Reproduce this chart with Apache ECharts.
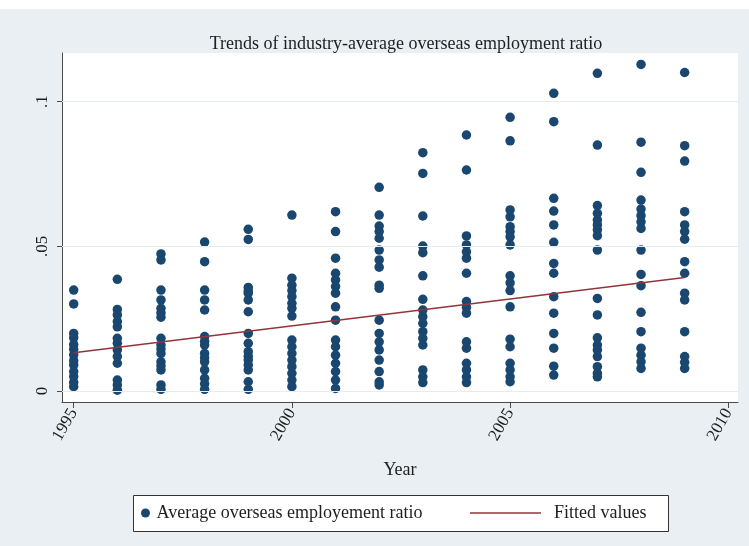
<!DOCTYPE html>
<html>
<head>
<meta charset="utf-8">
<script src="https://cdn.jsdelivr.net/npm/echarts@6/dist/echarts.min.js"></script>
<style>
html,body{margin:0;padding:0;background:#fff;}
#c{width:749px;height:546px;}
</style>
</head>
<body>
<div id="c"></div>
<script>
// ---- data ----
const years = [1995,1996,1997,1998,1999,2000,2001,2002,2003,2004,2005,2006,2007,2008,2009];
const r1995 = [0.0349,0.0301,0.0199,0.0184,0.0160,0.0144,0.0125,0.0105,0.0090,0.0067,0.0050,0.0030,0.0015];
const r1996 = [0.0386,0.0282,0.0263,0.0240,0.0222,0.0182,0.0165,0.0142,0.0119,0.0096,0.0038,0.0021,0.0003];
const r1997 = [0.0474,0.0453,0.0349,0.0315,0.0286,0.0270,0.0255,0.0182,0.0159,0.0145,0.0130,0.0101,0.0087,0.0073,0.0021,0.0006];
const r1998 = [0.0515,0.0447,0.0349,0.0315,0.0280,0.0188,0.0172,0.0159,0.0130,0.0115,0.0101,0.0073,0.0044,0.0025,0.0006];
const r1999 = [0.0559,0.0524,0.0358,0.0346,0.0338,0.0315,0.0274,0.0199,0.0165,0.0136,0.0120,0.0107,0.0090,0.0073,0.0032,0.0006];
const r2000 = [0.0608,0.0390,0.0366,0.0347,0.0326,0.0303,0.0286,0.0259,0.0176,0.0153,0.0130,0.0107,0.0084,0.0061,0.0038,0.0015];
const r2001 = [0.0620,0.0551,0.0459,0.0407,0.0384,0.0361,0.0338,0.0291,0.0245,0.0176,0.0153,0.0124,0.0096,0.0067,0.0038,0.0009];
const r2002 = [0.0704,0.0608,0.0570,0.0551,0.0528,0.0487,0.0453,0.0428,0.0366,0.0355,0.0245,0.0199,0.0170,0.0142,0.0107,0.0067,0.0032,0.0021];
const r2003 = [0.0824,0.0752,0.0605,0.0501,0.0478,0.0398,0.0317,0.0280,0.0257,0.0234,0.0205,0.0182,0.0159,0.0073,0.0049,0.0029];
const r2004 = [0.0885,0.0764,0.0536,0.0505,0.0481,0.0459,0.0407,0.0309,0.0289,0.0269,0.0170,0.0148,0.0096,0.0073,0.0049,0.0029];
const r2005 = [0.0946,0.0865,0.0626,0.0602,0.0568,0.0551,0.0533,0.0505,0.0398,0.0374,0.0347,0.0291,0.0179,0.0153,0.0096,0.0073,0.0049,0.0032];
const r2006 = [0.1029,0.0931,0.0666,0.0622,0.0574,0.0514,0.0441,0.0407,0.0326,0.0269,0.0199,0.0148,0.0086,0.0055];
const r2007 = [0.1098,0.0850,0.0641,0.0614,0.0591,0.0574,0.0557,0.0537,0.0487,0.0320,0.0263,0.0184,0.0159,0.0142,0.0119,0.0084,0.0061,0.0049];
const r2008 = [0.1129,0.0860,0.0756,0.0660,0.0629,0.0606,0.0585,0.0562,0.0487,0.0403,0.0364,0.0272,0.0205,0.0148,0.0124,0.0101,0.0078];
const r2009 = [0.1101,0.0848,0.0795,0.0620,0.0574,0.0551,0.0525,0.0447,0.0407,0.0338,0.0315,0.0205,0.0119,0.0099,0.0078];
const fitYears = [1995, 2009];
const fitValues = [0.0132, 0.0392];
const xTicks = [1995, 2000, 2005, 2010];
const yTicks = [0, 0.05, 0.1];
const yTickLabels = ['0', '.05', '.1'];

const ratios = [r1995,r1996,r1997,r1998,r1999,r2000,r2001,r2002,r2003,r2004,r2005,r2006,r2007,r2008,r2009];
const scatterData = [];
years.forEach((y, i) => ratios[i].forEach(v => scatterData.push([y, v])));
const fitData = fitYears.map((y, i) => [y, fitValues[i]]);

const FONT = '"Liberation Serif", "Times New Roman", serif';
const TXT = '#1e1e1e';
const chart = echarts.init(document.getElementById('c'), null, {renderer: 'canvas'});
chart.setOption({
  animation: false,
  backgroundColor: '#e9eff2',
  title: {
    text: 'Trends of industry-average overseas employment ratio',
    left: 401, top: 30, textAlign: 'center',
    textStyle: {fontFamily: FONT, fontSize: 18, fontWeight: 'normal', color: TXT}
  },
  grid: {left: 62, top: 53, right: 11, bottom: 144, show: true, backgroundColor: '#ffffff', borderWidth: 0},
  xAxis: {
    type: 'value', min: 1994.732, max: 2010.222,
    name: 'Year', nameLocation: 'middle', nameGap: 59,
    nameTextStyle: {fontFamily: FONT, fontSize: 18, color: TXT},
    axisLine: {show: true, onZero: false, lineStyle: {color: '#4a4a4a', width: 1}},
    axisTick: {show: true, length: 6, customValues: xTicks, lineStyle: {color: '#4a4a4a'}},
    axisLabel: {customValues: xTicks, rotate: 60, margin: 8, fontFamily: FONT, fontSize: 17, color: TXT,
      formatter: v => String(Math.round(v))},
    splitLine: {show: false}
  },
  yAxis: {
    type: 'value', min: -0.0038, max: 0.11684,
    axisLine: {show: true, onZero: false, lineStyle: {color: '#4a4a4a', width: 1}},
    axisTick: {show: true, length: 5, customValues: yTicks, lineStyle: {color: '#4a4a4a'}},
    axisLabel: {customValues: yTicks, rotate: 90, margin: 11, fontFamily: FONT, fontSize: 17, color: TXT,
      formatter: v => { const i = yTicks.findIndex(t => Math.abs(t - v) < 1e-9); return i >= 0 ? yTickLabels[i] : ''; }},
    splitLine: {show: false}
  },
  legend: [
    {
      data: ['Average overseas employement ratio'],
      left: 141, top: 504, padding: 0,
      icon: 'circle', itemWidth: 12, itemHeight: 9,
      textStyle: {fontFamily: FONT, fontSize: 18, color: TXT}
    },
    {
      data: ['Fitted values'],
      left: 470, top: 504, padding: 0,
      icon: 'rect', itemWidth: 71, itemHeight: 1.5,
      textStyle: {fontFamily: FONT, fontSize: 18, color: TXT, padding: [0, 0, 0, 8]}
    }
  ],
  graphic: [
    {type: 'rect', shape: {x: 0, y: 0, width: 749, height: 9}, style: {fill: '#ffffff'}, silent: true},
    {type: 'rect', shape: {x: 133.5, y: 495.5, width: 535, height: 36}, style: {fill: '#ffffff', stroke: '#333333', lineWidth: 1}, silent: true, z: 0}
  ],
  series: [
    {
      name: 'Average overseas employement ratio',
      type: 'scatter',
      data: scatterData,
      symbol: 'circle', symbolSize: 9.5,
      itemStyle: {color: '#1a476f', opacity: 1},
      z: 3,
      markLine: {
        silent: true, symbol: 'none', animation: false,
        label: {show: false},
        lineStyle: {color: '#e6edf0', width: 1, type: 'solid'},
        data: yTicks.map(t => ({yAxis: t}))
      }
    },
    {
      name: 'Fitted values',
      type: 'line',
      data: fitData,
      symbol: 'none',
      lineStyle: {color: '#90353b', width: 1.5},
      itemStyle: {color: '#90353b'},
      z: 4
    }
  ]
});
</script>
</body>
</html>
